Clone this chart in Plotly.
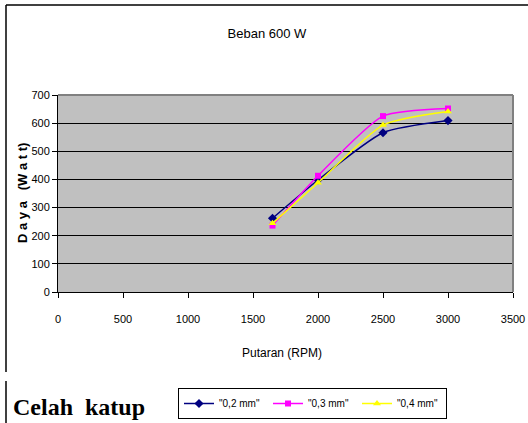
import plotly.graph_objects as go

# Engine speed (RPM) and output power (Watt) for three valve clearances
rpm = [1650, 2000, 2500, 3000]
daya_02 = [262, 398, 566, 609]
daya_03 = [236, 413, 625, 652]
daya_04 = [244, 388, 593, 641]

x_ticks = [0, 500, 1000, 1500, 2000, 2500, 3000, 3500]
y_ticks = [0, 100, 200, 300, 400, 500, 600, 700]

W, H = 528, 423
L, R, T, B = 58, 15, 95, 131
pw, ph = W - L - R, H - T - B


def px_x(v):
    return (v - L) / pw


def px_y(v):
    return (H - B - v) / ph


sans = "Liberation Sans, Arial, sans-serif"

series = [
    ('"0,2 mm"', daya_02, "#000080", "diamond", 7),
    ('"0,3 mm"', daya_03, "#FF00FF", "square", 6),
    ('"0,4 mm"', daya_04, "#FFFF00", "triangle-up", 7),
]

fig = go.Figure()
for name, vals, col, sym, sz in series:
    fig.add_trace(go.Scatter(
        x=rpm, y=vals, name=name, mode="lines+markers",
        line=dict(color=col, width=1.5, shape="spline", smoothing=0.6),
        marker=dict(color=col, symbol=sym, size=sz),
    ))

fig.update_layout(
    width=W, height=H,
    margin=dict(l=L, r=R, t=T, b=B, autoexpand=False),
    paper_bgcolor="white",
    plot_bgcolor="#C0C0C0",
    font=dict(family=sans, size=11, color="black"),
    title=dict(text="Beban 600 W", x=267 / W, xanchor="center",
               y=1 - 33 / H, yanchor="middle",
               font=dict(family=sans, size=13, color="black")),
    xaxis=dict(range=[0, 3500], tickvals=x_ticks, showgrid=False,
               showline=True, linecolor="black", linewidth=1,
               ticks="outside", ticklen=5, tickcolor="black",
               ticklabelstandoff=12, automargin=False,
               zeroline=False, fixedrange=True,
               tickfont=dict(family=sans, size=11)),
    yaxis=dict(range=[0, 700], tickvals=y_ticks, showgrid=True,
               gridcolor="black", gridwidth=1,
               showline=True, linecolor="black", linewidth=1,
               ticks="outside", ticklen=5, tickcolor="black",
               automargin=False,
               zeroline=False, fixedrange=True,
               tickfont=dict(family=sans, size=11)),
    legend=dict(orientation="h", xref="container", yref="container",
                x=178 / W, y=1 - 388 / H, xanchor="left", yanchor="top",
                bordercolor="black", borderwidth=1, bgcolor="white",
                font=dict(family=sans, size=10),
                itemwidth=30, entrywidth=44, entrywidthmode="pixels",
                tracegroupgap=0),
    showlegend=True,
)

# x axis title
fig.add_annotation(text="Putaran (RPM)", xref="paper", yref="paper",
                   x=px_x(282), y=px_y(353), showarrow=False,
                   xanchor="center", yanchor="middle",
                   font=dict(family=sans, size=12, color="black"))

# y axis title with letter spacing
fig.add_annotation(text="<b>D a y a   (W a t t)</b>", xref="paper", yref="paper",
                   x=px_x(22), y=px_y(193), textangle=-90, showarrow=False,
                   font=dict(family=sans, size=13, color="black"),
                   xanchor="center", yanchor="middle")

# Label beside the legend
fig.add_annotation(text="<b>Celah  katup</b>", xref="paper", yref="paper",
                   x=px_x(11), y=px_y(407), showarrow=False,
                   xanchor="left", yanchor="middle",
                   font=dict(family="Liberation Serif, Times New Roman, serif",
                             size=24, color="black"))

# Plot area frame (top/right edges grey)
fig.add_shape(type="line", xref="paper", yref="paper", x0=0, x1=1, y0=1, y1=1,
              line=dict(color="#808080", width=2))
fig.add_shape(type="line", xref="paper", yref="paper", x0=1, x1=1, y0=0, y1=1,
              line=dict(color="#808080", width=2))

# Outer frame lines
fig.add_shape(type="line", xref="paper", yref="paper",
              x0=px_x(6), x1=px_x(528), y0=px_y(5), y1=px_y(5),
              line=dict(color="black", width=1.5))
fig.add_shape(type="line", xref="paper", yref="paper",
              x0=px_x(6), x1=px_x(6), y0=px_y(5), y1=px_y(372),
              line=dict(color="black", width=1.5))
fig.add_shape(type="line", xref="paper", yref="paper",
              x0=px_x(6), x1=px_x(6), y0=px_y(381), y1=px_y(423),
              line=dict(color="black", width=1.5))

fig.write_html("out.html")
